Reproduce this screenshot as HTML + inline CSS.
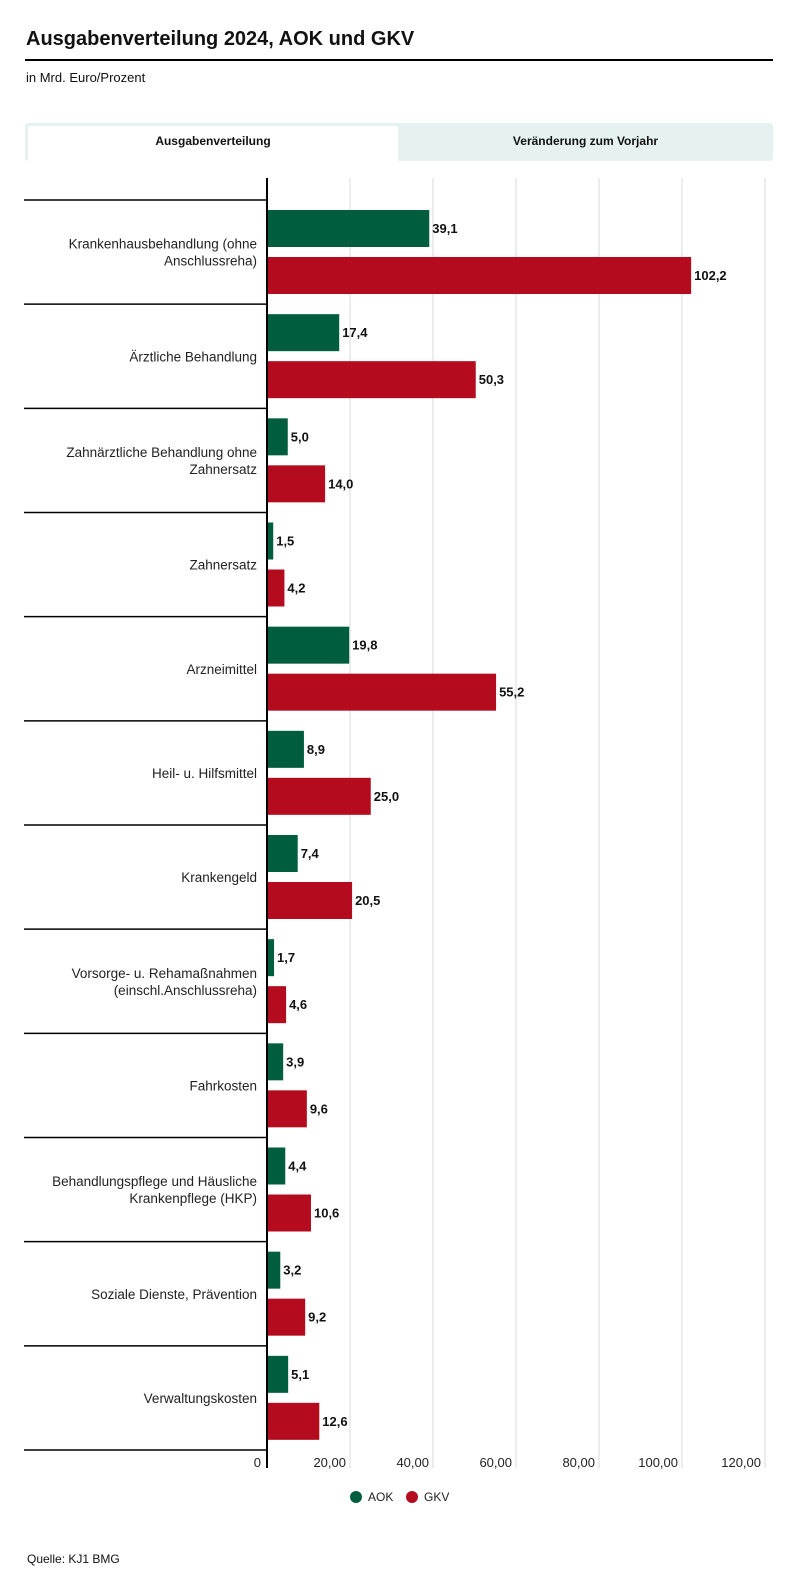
<!DOCTYPE html>
<html><head><meta charset="utf-8">
<style>
body{margin:0;background:#fff;font-family:"Liberation Sans",sans-serif;color:#111;}
#wrap{position:relative;width:800px;height:1594px;overflow:hidden;}
.t{position:absolute;white-space:nowrap;}
</style></head>
<body>
<div id="wrap">
<div class="t" style="left:26px;top:28px;font-size:20px;font-weight:bold;">Ausgabenverteilung 2024, AOK und GKV</div>
<div style="position:absolute;left:25px;top:59px;width:748px;height:2px;background:#000;"></div>
<div class="t" style="left:26px;top:70px;font-size:13px;">in Mrd. Euro/Prozent</div>
<div style="position:absolute;left:25px;top:123px;width:748px;height:38px;background:#e6f2ef;border-radius:3px;"></div>
<div style="position:absolute;left:28px;top:126px;width:370px;height:35px;background:#fff;border-radius:3px 3px 0 0;font-size:12px;font-weight:bold;text-align:center;line-height:30px;">Ausgabenverteilung</div>
<div style="position:absolute;left:398px;top:126px;width:375px;height:35px;font-size:12px;font-weight:bold;text-align:center;line-height:30px;">Veränderung zum Vorjahr</div>
<svg id="chart" width="800" height="1594" style="position:absolute;left:0;top:0;font-family:'Liberation Sans',sans-serif;"></svg>
<div class="t" style="left:27px;top:1552px;font-size:12px;">Quelle: KJ1 BMG</div>
</div>
<script>
const categories=["Krankenhausbehandlung (ohne|Anschlussreha)","Ärztliche Behandlung","Zahnärztliche Behandlung ohne|Zahnersatz","Zahnersatz","Arzneimittel","Heil- u. Hilfsmittel","Krankengeld","Vorsorge- u. Rehamaßnahmen|(einschl.Anschlussreha)","Fahrkosten","Behandlungspflege und Häusliche|Krankenpflege (HKP)","Soziale Dienste, Prävention","Verwaltungskosten"];
const aok=[39.1,17.4,5.0,1.5,19.8,8.9,7.4,1.7,3.9,4.4,3.2,5.1];
const gkv=[102.2,50.3,14.0,4.2,55.2,25.0,20.5,4.6,9.6,10.6,9.2,12.6];
const ticks=[20,40,60,80,100,120];
const tickLabels=["20,00","40,00","60,00","80,00","100,00","120,00"];
const svg=document.getElementById('chart');
const NS='http://www.w3.org/2000/svg';
const x0=267,pxPer=83/20,top0=200,rowH=(1450-200)/12;
const xs=v=>x0+v*pxPer;
function mk(t,a){const e=document.createElementNS(NS,t);for(const k in a)e.setAttribute(k,a[k]);svg.appendChild(e);return e;}
ticks.forEach((t,i)=>{
 const g=mk('line',{x1:xs(t),x2:xs(t),y1:178,y2:1468,stroke:'#d9d9d9','stroke-width':1});
 
 
 const l=mk('text',{x:xs(t)-4,y:1467,'text-anchor':'end','font-size':13,fill:'#222'});
 l.textContent=tickLabels[i];
 
 
});
const z=mk('text',{x:x0-6,y:1467,'text-anchor':'end','font-size':13,fill:'#222'});z.textContent='0';


categories.forEach((c,i)=>{
 const y=top0+i*rowH;
 const s=mk('line',{x1:24,x2:x0,y1:y,y2:y,stroke:'#000','stroke-width':1.5});
 
 
 const lines=c.split('|');const cy=y+rowH/2;
 lines.forEach((ln,j)=>{
  const t=mk('text',{x:257,y:cy+5+(j-(lines.length-1)/2)*17,'text-anchor':'end','font-size':13.5,fill:'#222'});
  t.textContent=ln;
  
  
 });
 [[aok[i],'#005e3f',10,'bar-aok'],[gkv[i],'#b40c1e',57,'bar-gkv']].forEach(([v,col,off,nm])=>{
  const r=mk('rect',{x:x0,y:y+off,width:xs(v)-x0,height:37,fill:col});
  
  
  const t=mk('text',{x:xs(v)+3,y:y+off+23,'font-size':13,'font-weight':'bold',fill:'#111'});
  t.textContent=v.toFixed(1).replace('.',',');
  
  
 });
});
const last=mk('line',{x1:24,x2:x0,y1:1450,y2:1450,stroke:'#000','stroke-width':1.5});


const ax=mk('line',{x1:x0,x2:x0,y1:178,y2:1468,stroke:'#000','stroke-width':2});


[['AOK','#005e3f',356,'legend-aok'],['GKV','#b40c1e',412,'legend-gkv']].forEach(([n,c,x,nm])=>{
 const d=mk('circle',{cx:x,cy:1497,r:6,fill:c});
 
 
 const t=mk('text',{x:x+12,y:1501,'font-size':12,fill:'#222'});t.textContent=n;
 
 
});
</script>
</body></html>
